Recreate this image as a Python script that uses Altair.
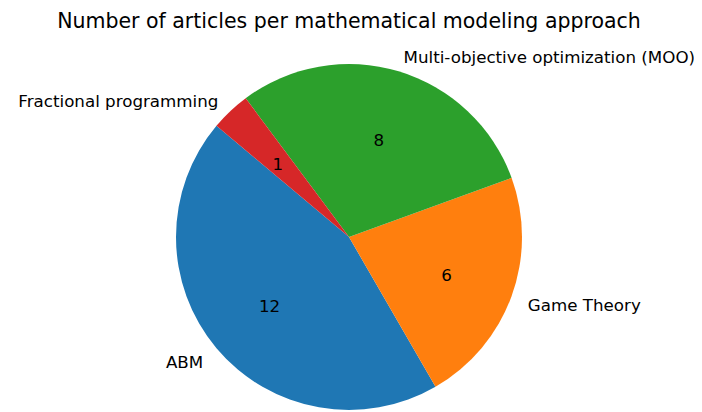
import math
import altair as alt
import pandas as pd

labels = ["ABM", "Game Theory", "Multi-objective optimization (MOO)", "Fractional programming"]
counts = [12, 6, 8, 1]
colors = ["#1f77b4", "#ff7f0e", "#2ca02c", "#d62728"]

df = pd.DataFrame({"label": labels, "count": counts, "idx": list(range(len(labels)))})
total = sum(counts)
start_deg = 140  # counterclockwise start angle (from 3 o'clock)
start = math.radians(90 - start_deg)
theta_scale = alt.Scale(domain=[0, total], range=[start, start - 2 * math.pi])

R = 173
FONT = "DejaVu Sans"

base = alt.Chart(df).transform_window(
    cum="sum(count)", sort=[alt.SortField("idx")], frame=[None, 0]
).transform_calculate(
    begin="datum.cum - datum.count",
    mid="datum.cum - datum.count / 2",
    side=f"cos(({start_deg} + datum.mid / {total} * 360) * PI / 180) < 0 ? 'left' : 'right'",
)

arcs = base.mark_arc(radius=R).encode(
    theta=alt.Theta("begin:Q", scale=theta_scale, stack=False),
    theta2="cum:Q",
    color=alt.Color("label:N", scale=alt.Scale(domain=labels, range=colors), legend=None),
)

text_style = dict(baseline="middle", font=FONT, fontSize=16.7, color="#000000", dy=3.5)

lab_left = base.transform_filter("datum.side == 'left'").mark_text(
    radius=R * 1.1, align="right", **text_style
).encode(
    theta=alt.Theta("mid:Q", scale=theta_scale, stack=False),
    text="label:N",
)

lab_right = base.transform_filter("datum.side == 'right'").mark_text(
    radius=R * 1.1, align="left", **text_style
).encode(
    theta=alt.Theta("mid:Q", scale=theta_scale, stack=False),
    text="label:N",
)

pct = base.mark_text(
    radius=R * 0.6, align="center", **text_style
).encode(
    theta=alt.Theta("mid:Q", scale=theta_scale, stack=False),
    text="count:Q",
)

chart = alt.layer(arcs, lab_left, lab_right, pct).properties(
    width=682,
    height=334,
    padding={"left": 0, "top": 62, "right": 4, "bottom": 8},
    autosize=alt.AutoSizeParams(type="none"),
    title=alt.TitleParams(
        "Number of articles per mathematical modeling approach",
        fontSize=20.5, font=FONT, fontWeight="normal", color="#000000",
        offset=18, anchor="middle",
    ),
).configure_view(stroke="transparent")

chart.save("out.html", embed_options={"renderer": "svg", "actions": False})
